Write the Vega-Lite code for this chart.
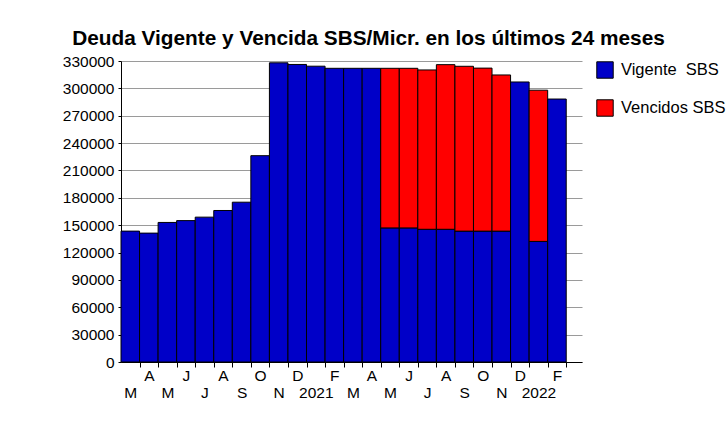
{
  "$schema": "https://vega.github.io/schema/vega-lite/v6.json",
  "width": 461,
  "height": 301,
  "autosize": {"type": "none"},
  "padding": {"left": 121, "top": 61, "right": 146, "bottom": 72},
  "background": "white",
  "title": {
    "text": "Deuda Vigente y Vencida SBS/Micr. en los últimos 24 meses",
    "font": "Liberation Sans",
    "fontSize": 20.8,
    "fontWeight": "bold",
    "color": "black",
    "anchor": "middle",
    "dx": 17,
    "offset": 4
  },
  "data": {
    "values": [
      {"mes": "2020-03", "serie": "Vigente SBS", "valor": 143500},
      {"mes": "2020-04", "serie": "Vigente SBS", "valor": 141300},
      {"mes": "2020-05", "serie": "Vigente SBS", "valor": 153000},
      {"mes": "2020-06", "serie": "Vigente SBS", "valor": 155000},
      {"mes": "2020-07", "serie": "Vigente SBS", "valor": 158800},
      {"mes": "2020-08", "serie": "Vigente SBS", "valor": 166100},
      {"mes": "2020-09", "serie": "Vigente SBS", "valor": 175200},
      {"mes": "2020-10", "serie": "Vigente SBS", "valor": 226200},
      {"mes": "2020-11", "serie": "Vigente SBS", "valor": 328000},
      {"mes": "2020-12", "serie": "Vigente SBS", "valor": 326200},
      {"mes": "2021-01", "serie": "Vigente SBS", "valor": 324300},
      {"mes": "2021-02", "serie": "Vigente SBS", "valor": 322000},
      {"mes": "2021-03", "serie": "Vigente SBS", "valor": 322000},
      {"mes": "2021-04", "serie": "Vigente SBS", "valor": 322000},
      {"mes": "2021-05", "serie": "Vigente SBS", "valor": 147000},
      {"mes": "2021-05", "serie": "Vencidos SBS", "valor": 175000},
      {"mes": "2021-06", "serie": "Vigente SBS", "valor": 147000},
      {"mes": "2021-06", "serie": "Vencidos SBS", "valor": 175000},
      {"mes": "2021-07", "serie": "Vigente SBS", "valor": 145500},
      {"mes": "2021-07", "serie": "Vencidos SBS", "valor": 174700},
      {"mes": "2021-08", "serie": "Vigente SBS", "valor": 145500},
      {"mes": "2021-08", "serie": "Vencidos SBS", "valor": 180500},
      {"mes": "2021-09", "serie": "Vigente SBS", "valor": 143500},
      {"mes": "2021-09", "serie": "Vencidos SBS", "valor": 180700},
      {"mes": "2021-10", "serie": "Vigente SBS", "valor": 143500},
      {"mes": "2021-10", "serie": "Vencidos SBS", "valor": 178700},
      {"mes": "2021-11", "serie": "Vigente SBS", "valor": 143500},
      {"mes": "2021-11", "serie": "Vencidos SBS", "valor": 171200},
      {"mes": "2021-12", "serie": "Vigente SBS", "valor": 307000},
      {"mes": "2022-01", "serie": "Vigente SBS", "valor": 132200},
      {"mes": "2022-01", "serie": "Vencidos SBS", "valor": 165800},
      {"mes": "2022-02", "serie": "Vigente SBS", "valor": 288300}
    ]
  },
  "mark": {"type": "bar", "stroke": "black", "strokeWidth": 1},
  "encoding": {
    "x": {
      "field": "mes",
      "type": "ordinal",
      "scale": {"paddingInner": 0, "paddingOuter": 0.425, "align": 0},
      "axis": {
        "title": null,
        "tickSize": 5,
        "tickOffset": 9.28,
        "labelOffset": -9.28,
        "tickColor": "black",
        "domainColor": "black",
        "labelAngle": 0,
        "labelFont": "Liberation Sans",
        "labelFontSize": 15.5,
        "labelColor": "black",
        "labelPadding": 1,
        "labelOverlap": false,
        "labelExpr": "(toNumber(slice(datum.value,5,7)) % 2 == 0) ? [(slice(datum.value,5,7) == '01' ? slice(datum.value,0,4) : substring('EFMAMJJASOND', toNumber(slice(datum.value,5,7)) - 1, toNumber(slice(datum.value,5,7))))] : ['', (slice(datum.value,5,7) == '01' ? slice(datum.value,0,4) : substring('EFMAMJJASOND', toNumber(slice(datum.value,5,7)) - 1, toNumber(slice(datum.value,5,7))))]"
      }
    },
    "y": {
      "field": "valor",
      "type": "quantitative",
      "scale": {"domain": [0, 330000], "nice": false},
      "axis": {
        "title": null,
        "values": [0, 30000, 60000, 90000, 120000, 150000, 180000, 210000, 240000, 270000, 300000, 330000],
        "format": "d",
        "gridColor": "#9a9a9a",
        "tickSize": 3,
        "tickColor": "black",
        "domainColor": "black",
        "labelFont": "Liberation Sans",
        "labelFontSize": 15.5,
        "labelColor": "black",
        "labelPadding": 4
      }
    },
    "color": {
      "field": "serie",
      "type": "nominal",
      "sort": ["Vigente SBS", "Vencidos SBS"],
      "scale": {"range": ["#0000c8", "#ff0000"]},
      "legend": {
        "title": null,
        "offset": 14,
        "padding": 0,
        "symbolType": "square",
        "symbolSize": 270,
        "symbolStrokeColor": "black",
        "symbolStrokeWidth": 1,
        "labelFont": "Liberation Sans",
        "labelFontSize": 16.5,
        "labelColor": "black",
        "labelOffset": 7,
        "rowPadding": 16,
        "labelExpr": "datum.label == 'Vigente SBS' ? 'Vigente\u00a0 SBS' : datum.label"
      }
    }
  },
  "config": {
    "view": {"stroke": null}
  }
}
